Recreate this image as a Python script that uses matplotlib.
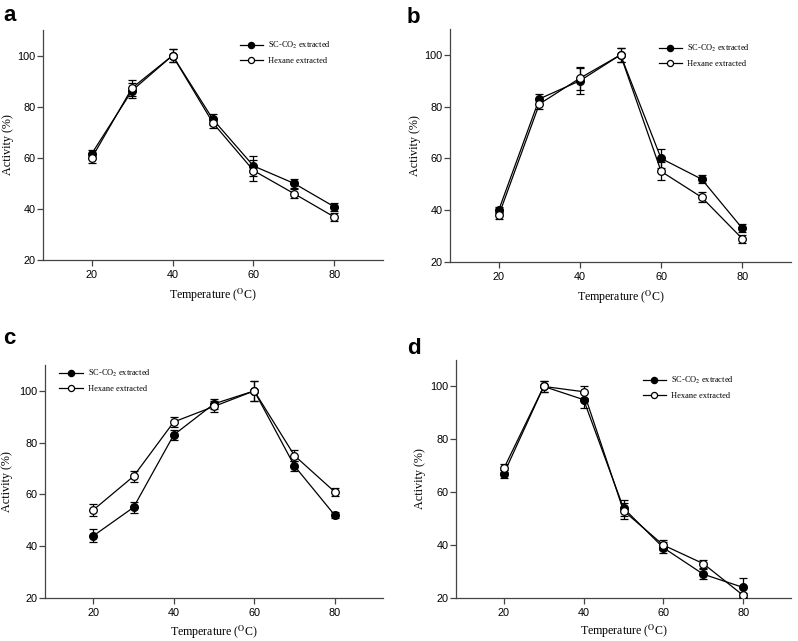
import matplotlib
matplotlib.use("Agg")
import matplotlib.pyplot as plt

plt.rcParams['mathtext.fontset'] = 'stix'

temperature = [20, 30, 40, 50, 60, 70, 80]

# Panel a
a_sc = [61.5, 86.3, 100, 75, 56.8, 50, 40.8]
a_sc_err = [1.5, 3, 2.5, 2, 4, 1.8, 1.6]
a_hex = [59.8, 87.3, 100, 73.6, 55, 46, 36.8]
a_hex_err = [1.9, 3, 2.5, 2, 4, 1.9, 1.7]

# Panel b
b_sc = [40, 83, 90, 100, 60, 52, 33]
b_sc_err = [1.2, 2, 5, 2.6, 3.5, 1.6, 1.5]
b_hex = [38, 81, 91, 100, 55, 45, 29]
b_hex_err = [1.5, 2, 4.5, 2.6, 3.5, 2, 1.6]

# Panel c
c_sc = [44, 55, 83, 95, 100, 71, 52]
c_sc_err = [2.5, 2, 2, 2, 4, 2, 1.2]
c_hex = [54, 67, 88, 94, 100, 75, 61]
c_hex_err = [2.5, 2, 2, 2, 4, 2, 1.5]

# Panel d
d_sc = [67, 100, 95, 54, 39, 29, 24]
d_sc_err = [1.5, 2, 3, 3, 2, 2, 3.5]
d_hex = [69, 100, 98, 53, 40, 33, 21]
d_hex_err = [1.5, 2, 2.3, 3, 2, 1.5, 1]

panel_letters = ['a', 'b', 'c', 'd']
legend_labels = ['SC-CO$_2$ extracted', 'Hexane extracted']
yticks = [20, 40, 60, 80, 100]
xticks = [20, 40, 60, 80]

fig = plt.figure(figsize=(7.98, 6.41), dpi=100)

W, H = 798, 641
def px_axes(l, t, r, b):
    return fig.add_axes([l / W, 1 - b / H, (r - l) / W, (b - t) / H])

axes_px = [(43, 30, 383, 260), (450, 29, 791, 262), (45, 365, 383, 598), (456, 360, 791, 598)]
data = [(a_sc, a_sc_err, a_hex, a_hex_err), (b_sc, b_sc_err, b_hex, b_hex_err),
        (c_sc, c_sc_err, c_hex, c_hex_err), (d_sc, d_sc_err, d_hex, d_hex_err)]
legend_anchor = [(0.556, 0.99), (0.59, 0.973), (0.02, 1.02), (0.535, 0.97)]
letter_pos = [(3, 21), (407, 23), (3, 344), (407, 354)]
ylabel_x_px = [8, 415, 7, 420]
xlabel_top_px = [27, 27, 26, 25]

for i, ((l, t, r, b), (sc, sce, hx, hxe)) in enumerate(zip(axes_px, data)):
    ax = px_axes(l, t, r, b)
    w_px, h_px = r - l, b - t
    c1 = ax.errorbar(temperature, sc, yerr=sce, color='black', marker='o', ms=5.5,
                     mfc='black', mec='black', lw=0.9, elinewidth=0.9, capsize=3,
                     capthick=0.9, zorder=3)
    c2 = ax.errorbar(temperature, hx, yerr=hxe, color='black', marker='o', ms=5.5,
                     mfc='white', mec='black', mew=0.9, lw=0.9, elinewidth=0.9, capsize=3,
                     capthick=0.9, zorder=4)
    ax.set_xlim(8, 92)
    ax.set_ylim(20, 110)
    ax.set_xticks(xticks)
    ax.set_yticks(yticks)
    for s in ['top', 'right']:
        ax.spines[s].set_visible(False)
    for s in ['left', 'bottom']:
        ax.spines[s].set_linewidth(0.9)
        ax.spines[s].set_color('#444444')
    ax.tick_params(direction='out', length=4, width=0.9, labelsize=7.8, color='#444444')
    ax.tick_params(axis='y', pad=1.5)
    ax.tick_params(axis='x', pad=3.5)
    for lab in ax.get_xticklabels() + ax.get_yticklabels():
        lab.set_family('Liberation Sans')
    ax.set_xlabel('Temperature ($^{\\mathrm{O}}$C)', family='Liberation Serif', fontsize=8.6)
    ax.xaxis.set_label_coords(0.5, -xlabel_top_px[i] / h_px)
    ax.set_ylabel('Activity (%)', family='Liberation Serif', fontsize=8.7)
    ax.yaxis.set_label_coords((ylabel_x_px[i] - l) / w_px, 0.5)
    ax.yaxis.label.set_va('center')
    ax.legend([c1[0], c2[0]], legend_labels, loc='upper left', bbox_to_anchor=legend_anchor[i],
              frameon=False, prop={'family': 'Liberation Serif', 'size': 6.0},
              handlelength=2.8, labelspacing=0.75, handletextpad=0.6, markerscale=0.8)
    lx, ly = letter_pos[i]
    fig.text(lx / W, 1 - ly / H, panel_letters[i], fontsize=16, fontweight='bold',
             family='Liberation Sans', ha='left', va='baseline')

fig.savefig('out.png', dpi=100)
